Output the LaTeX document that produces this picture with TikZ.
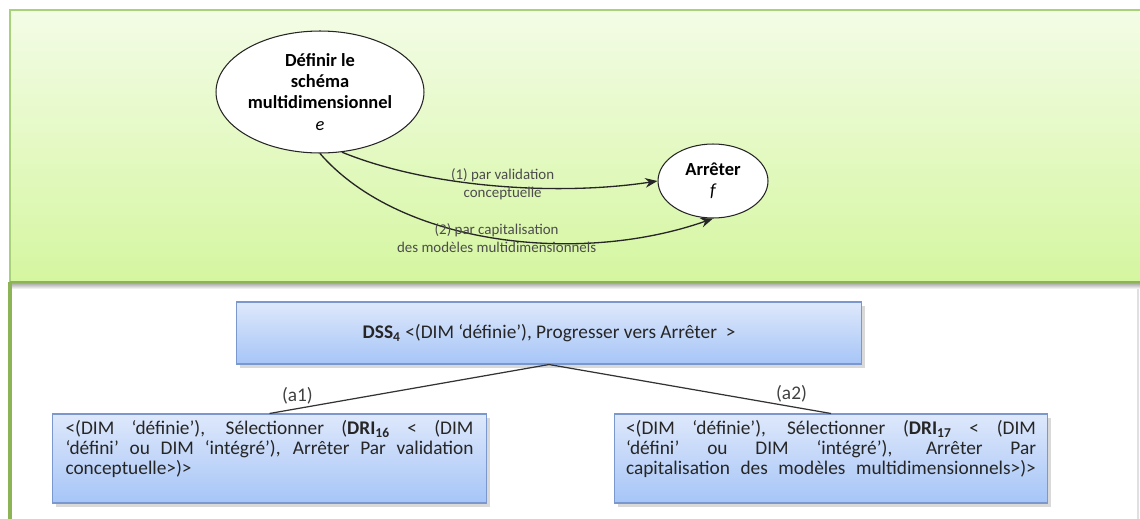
\documentclass[tikz,border=0pt]{standalone}
\usepackage{fontspec}
\setmainfont{Carlito}
\usepackage{xcolor}
\usepackage{tikz}
\usetikzlibrary{shapes.geometric, arrows.meta, positioning, shadows}
\definecolor{panelTop}{RGB}{243, 252, 230}
\definecolor{panelBot}{RGB}{213, 246, 160}
\definecolor{panelEdge}{RGB}{168, 210, 122}
\definecolor{panelDark}{RGB}{140, 180, 86}
\definecolor{boxTop}{RGB}{222, 232, 251}
\definecolor{boxBot}{RGB}{166, 197, 247}
\definecolor{boxEdge}{RGB}{122, 152, 206}
\tolerance=10000
\hbadness=10000
\begin{document}
\begin{tikzpicture}[x=0.02cm, y=0.02cm,
    proc/.style={ellipse, draw=black!85, line width=0.6pt, fill=white, inner sep=0pt, align=center, font=\fontsize{10.5}{12}\selectfont\bfseries},
    arc/.style={-{Stealth[length=7pt, width=5.5pt]}, line width=0.75pt, black!85},
    arclbl/.style={font=\fontsize{8.5}{10.5}\selectfont, text=black!70, align=center},
    dsbox/.style={draw=boxEdge, line width=0.6pt, top color=boxTop, bottom color=boxBot, drop shadow={shadow xshift=2pt, shadow yshift=-2pt, opacity=0.3}, font=\fontsize{11}{11.5}\selectfont, text=black!85},
    link/.style={line width=0.7pt, black!80},
    linklbl/.style={font=\fontsize{11}{12}\selectfont, text=black!75}]
    \useasboundingbox (0,0) rectangle (1140,-518);
    % Upper panel
    \fill[top color=panelTop, bottom color=panelBot] (10,-10) rectangle (1141,-282);
    \shade[top color=black!35, bottom color=white] (12,-283) rectangle (1141,-289);
    \draw[panelEdge, line width=1.2pt] (1141,-10) -- (10,-10) -- (10,-282);
    \draw[panelDark, line width=1.2pt] (10,-282) -- (1141,-282);
    % Lower panel
    \draw[panelDark, line width=1.8pt] (10,-282) -- (10,-520);
    \draw[black!12, line width=0.6pt] (1138,-289) -- (1138,-520);
    % States
    \node[proc, minimum width=4.16cm, minimum height=2.44cm] (e) at (320,-92) {D\'efinir le\\sch\'ema\\multidimensionnel\\{\mdseries\itshape e}};
    \node[proc, minimum width=2.2cm, minimum height=1.48cm] (f) at (713,-181) {Arr\^eter\\{\mdseries\itshape f}};
    % Transitions
    \draw[arc] (e.290) .. controls +(88,-36) and +(-98,-15) .. (f.west)
        node[arclbl, pos=0.52, yshift=1pt] (l1) {(1) par validation\\conceptuelle};
    \draw[arc] (e.south) .. controls +(80,-92) and +(-133,-47) .. (f.south)
        node[arclbl, pos=0.5] (l2) {(2) par capitalisation\\des mod\`eles multidimensionnels};
    % Strategy tree
    \node[dsbox, minimum width=12.52cm, minimum height=1.24cm] (dss) at (549,-333) {\textbf{DSS\textsubscript{4}} <(DIM ‘définie’), Progresser vers Arrêter\ \ >};
    \node[dsbox, text width=8.16cm, inner xsep=0.27cm, minimum height=1.78cm, align=justify] (r1) at (269.5,-458.5)
        {<(DIM ‘définie’), Sélectionner (\textbf{DRI\textsubscript{16}} < (DIM\linebreak ‘défini’ ou DIM ‘intégré’), Arrêter Par validation\linebreak conceptuelle>)>\par\vspace{11pt}};
    \node[dsbox, text width=8.2cm, inner xsep=0.24cm, minimum height=1.78cm, align=justify] (r2) at (831,-458.5)
        {\parfillskip=0pt <(DIM ‘définie’), Sélectionner (\textbf{DRI\textsubscript{17}} < (DIM\linebreak ‘défini’ ou DIM ‘intégré’), Arrêter Par\linebreak capitalisation des modèles multidimensionnels>)>\par\vspace{11pt}};
    \draw[link] (dss.south) -- (r1.north) node[linklbl, pos=0.9, anchor=south, yshift=-1pt] (a1) {(a1)};
    \draw[link] (dss.south) -- (r2.north) node[linklbl, pos=0.86, anchor=south, yshift=-1pt] (a2) {(a2)};
\end{tikzpicture}
\end{document}
